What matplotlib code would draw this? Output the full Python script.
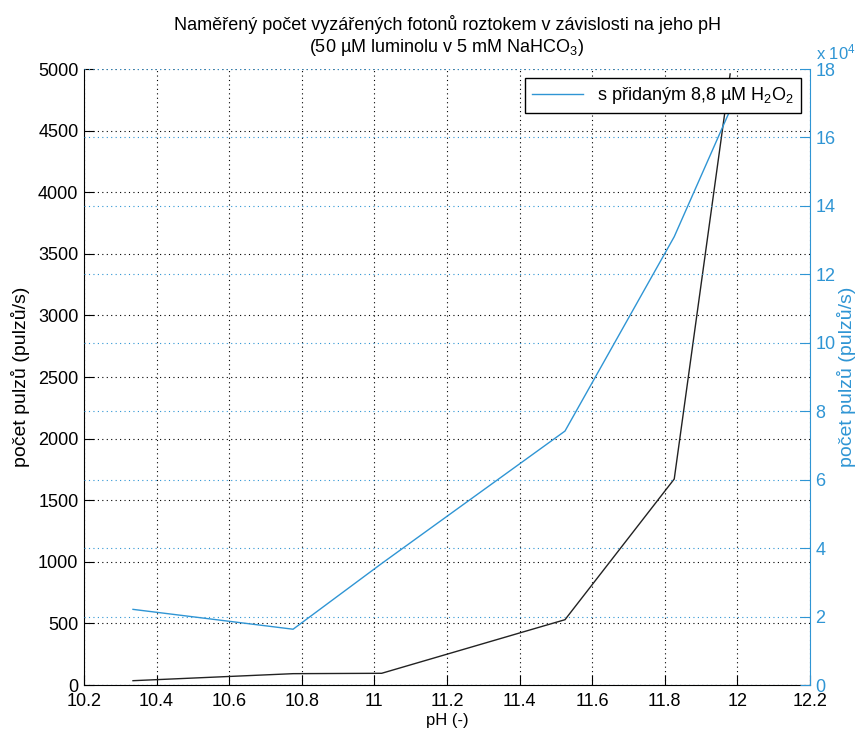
import numpy as np
import matplotlib
matplotlib.use("Agg")
import matplotlib.pyplot as plt
from matplotlib.ticker import FuncFormatter

plt.rcParams["font.family"] = ["Liberation Sans", "DejaVu Sans"]
plt.rcParams["mathtext.default"] = "regular"

# pH values (shared x)
ph = [10.335, 10.776, 11.02, 11.525, 11.826, 11.98]
# left axis: count rate without H2O2
counts = [35, 92, 95, 530, 1672, 4960]
# right axis: count rate with 8.8 uM H2O2
counts_h2o2 = [22100, 16300, 35500, 74200, 131000, 168000]

xticks = [10.2, 10.4, 10.6, 10.8, 11, 11.2, 11.4, 11.6, 11.8, 12, 12.2]
left_ticks = list(range(0, 5001, 500))
right_ticks = [i * 1e4 for i in range(0, 19, 2)]

BLUE = "#2f95d4"
dot = (0, (1, 3))

fig = plt.figure(figsize=(8.59, 7.31), dpi=100)
ax = fig.add_axes([84 / 859, 46 / 731, 726 / 859, 616 / 731])
ax2 = ax.twinx()

ax.plot(ph, counts, color="#222222", lw=1.0, zorder=3)
ax2.plot(ph, counts_h2o2, color=BLUE, lw=1.0, label="s přidaným 8,8 µM H$_2$O$_2$")

ax.set_xlim(10.2, 12.2)
ax.set_ylim(0, 5000)
ax2.set_ylim(0, 18e4)
ax.set_xticks(xticks)
ax.set_xticklabels([f"{t:g}" for t in xticks])
ax.set_yticks(left_ticks)
ax2.set_yticks(right_ticks)
ax2.yaxis.set_major_formatter(FuncFormatter(lambda v, p: f"{v / 1e4:g}"))

ax.grid(True, color="black", linestyle=dot, lw=0.8)
ax2.yaxis.grid(True, color=BLUE, linestyle=dot, lw=0.8)

for a in (ax, ax2):
    a.spines["top"].set_visible(False)
ax.spines["right"].set_visible(False)
ax2.spines["left"].set_visible(False)
ax2.spines["bottom"].set_visible(False)
ax2.spines["right"].set_color(BLUE)

ax.tick_params(direction="in", length=7, labelsize=13, pad=4)
ax.tick_params(axis="x", pad=6)
ax2.tick_params(direction="in", length=7, labelsize=13, colors=BLUE, pad=4)

ax.set_xlabel("pH (-)", fontsize=12, labelpad=2)
ax.set_ylabel("počet pulzů (pulzů/s)", fontsize=14, labelpad=6)
ax2.set_ylabel("počet pulzů (pulzů/s)", fontsize=14, color=BLUE, rotation=90, labelpad=1)

fig.text(856 / 859, (731 - 62) / 731, "x 10$^4$", color=BLUE, fontsize=12, ha="right", va="bottom")

ax.set_title("Naměřený počet vyzářených fotonů roztokem v závislosti na jeho pH\n"
             "(50 µM luminolu v 5 mM NaHCO$_3$)", fontsize=13, linespacing=1.2, pad=12)

leg = ax2.legend(loc="upper right", fontsize=13, fancybox=False, framealpha=1,
                 borderaxespad=0.5, handlelength=2.8)
leg.get_frame().set_edgecolor("black")
leg.get_frame().set_linewidth(1.0)
ax2.set_zorder(ax.get_zorder() + 1)
ax.patch.set_visible(True)
ax2.patch.set_visible(False)

fig.savefig("out.png", dpi=100)
